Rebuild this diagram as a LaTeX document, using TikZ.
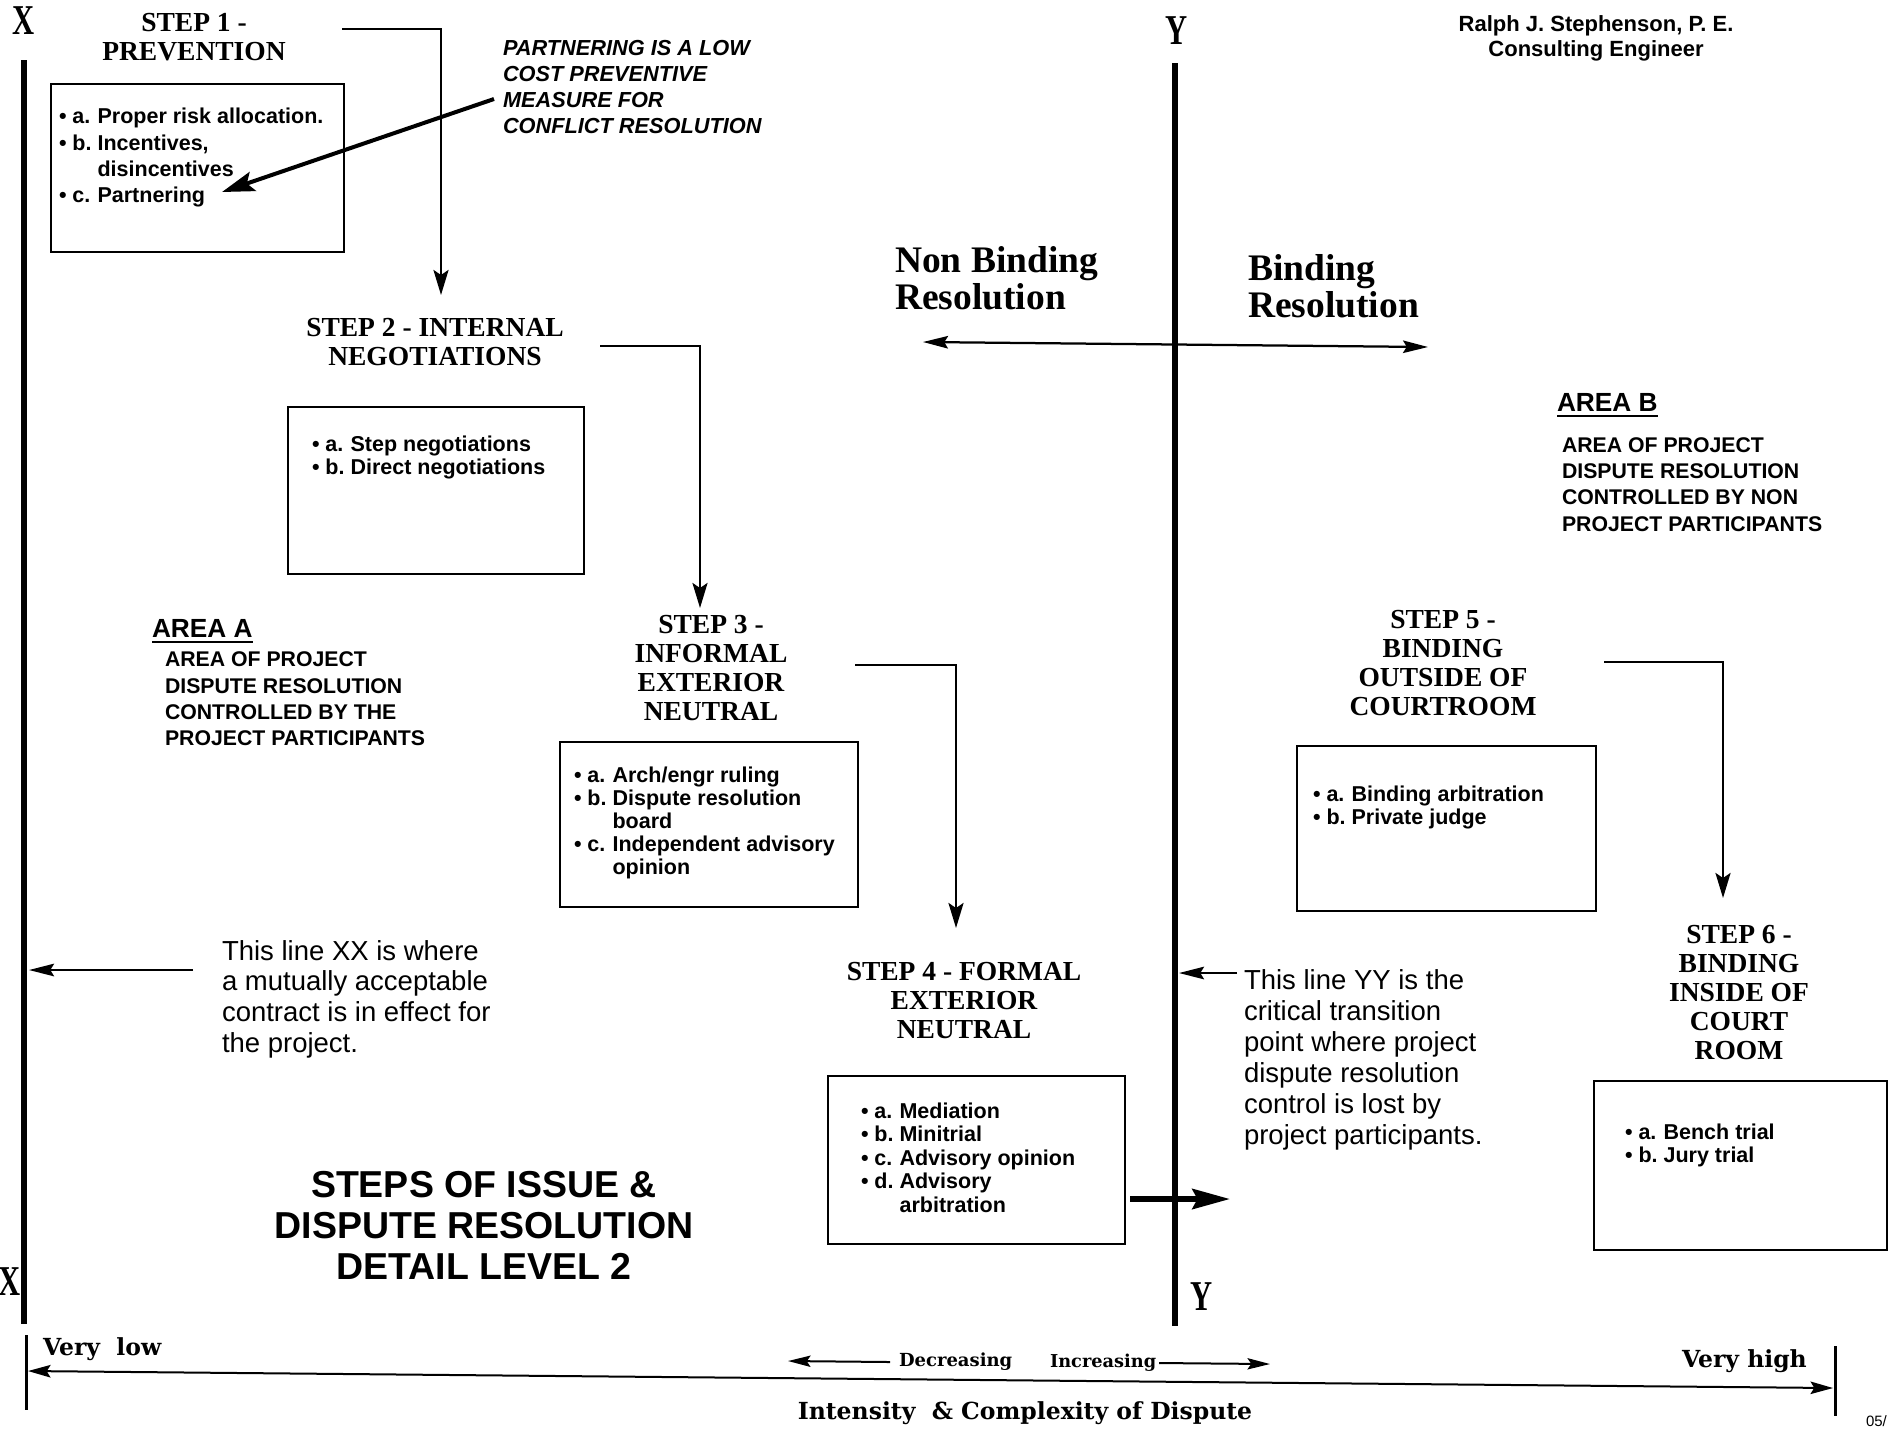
\documentclass[tikz,border=0pt]{standalone}
\usepackage{fontspec}
\setmainfont{Liberation Serif}
\setsansfont{Liberation Sans}
\newfontfamily\dvserif{DejaVu Serif}
\usetikzlibrary{arrows.meta}
\begin{document}
\begin{tikzpicture}[x=0.4pt,y=-0.4pt,
  every node/.style={inner sep=0pt, outer sep=0pt},
  steptitle/.style={font=\fontsize{11}{11.6}\selectfont\rmfamily\bfseries, align=center},
  stepbox/.style={draw, line width=0.75pt, anchor=north west},
  items/.style={font=\fontsize{8.6}{9.2}\selectfont\sffamily\bfseries, anchor=north west},
  areahead/.style={font=\fontsize{10.5}{12}\selectfont\sffamily\bfseries, anchor=base west},
  areatext/.style={font=\fontsize{8.5}{10.5}\selectfont\sffamily\bfseries, align=left, anchor=west},
  note/.style={font=\fontsize{11}{12.3}\selectfont\sffamily, align=left, anchor=west},
  bigletter/.style={font=\fontsize{17}{17}\selectfont\rmfamily\bfseries},
  bottomlabel/.style={font=\fontsize{9.4}{10}\selectfont\dvserif\bfseries, anchor=base west},
  axisline/.style={line width=2.3pt},
  conn/.style={line width=1.1pt, -{Stealth[length=10pt,width=6pt,inset=2pt]}},
  thinarrow/.style={line width=1pt, -{Stealth[length=10pt,width=5pt,inset=1.5pt]}},
  bigarrow/.style={line width=1.6pt, -{Stealth[length=13pt,width=8pt,inset=2.5pt]}},
  thickarrow/.style={line width=2.4pt, -{Stealth[length=15pt,width=8pt,inset=2pt]}},
  scaletip/.style={line width=0.8pt}
]
\useasboundingbox (0,0) rectangle (1890,1428);

% ---------- main vertical lines XX and YY ----------
\node[bigletter] (xtop) at (24,21) {\scalebox{0.72}[1]{X}};
\node[bigletter] (xbot) at (10,1282) {\scalebox{0.72}[1]{X}};
\coordinate (xl1) at (24,60);
\coordinate (xl2) at (24,1324);
\draw[axisline] (xl1) -- (xl2);

\node[bigletter] (ytop) at (1177,31) {\scalebox{0.72}[1]{Y}};
\node[bigletter] (ybot) at (1202,1297) {\scalebox{0.72}[1]{Y}};
\coordinate (yl1) at (1175,63);
\coordinate (yl2) at (1175,1326);
\draw[line width=2.5pt] (yl1) -- (yl2);

% ---------- header ----------
\node[font=\fontsize{8.8}{10}\selectfont\sffamily\bfseries, align=center] (author) at (1596,38)
  {Ralph J. Stephenson, P. E.\\Consulting Engineer};

% ---------- STEP 1 ----------
\node[steptitle] (s1) at (194,37) {STEP 1 -\\PREVENTION};
\node[stepbox, minimum width=117.2pt, minimum height=67.2pt] (b1) at (51,84) {};
\node[items, font=\fontsize{8.6}{10.5}\selectfont\sffamily\bfseries] (t1) at (59,105.4)
  {\begin{tabular}{@{}l@{\ }l@{\ }l@{}}
   \textbullet & a. & Proper risk allocation.\\
   \textbullet & b. & Incentives,\\
               &    & disincentives\\
   \textbullet & c. & Partnering
   \end{tabular}};
\coordinate (c1s) at (342,29);
\coordinate (c1e) at (441,295);
\draw[conn] (c1s) -| (c1e);

% partnering note
\node[font=\fontsize{8.7}{10.5}\selectfont\sffamily\bfseries\itshape, align=left, anchor=west] (pnote) at (503,87)
  {PARTNERING IS A LOW\\COST PREVENTIVE\\MEASURE FOR\\CONFLICT RESOLUTION};
\coordinate (pa1) at (494,99);
\coordinate (pa2) at (222,192);
\draw[bigarrow] (pa1) -- (pa2);

% ---------- STEP 2 ----------
\node[steptitle] (s2) at (435,342.5) {STEP 2 - INTERNAL\\NEGOTIATIONS};
\node[stepbox, minimum width=118.4pt, minimum height=66.8pt] (b2) at (288,407) {};
\node[items] (t2) at (312,435.6)
  {\begin{tabular}{@{}l@{\ }l@{\ }l@{}}
   \textbullet & a. & Step negotiations\\
   \textbullet & b. & Direct negotiations
   \end{tabular}};
\coordinate (c2s) at (600,346);
\coordinate (c2e) at (700,608);
\draw[conn] (c2s) -| (c2e);

% ---------- Non binding / binding ----------
\node[font=\fontsize{15}{14.8}\selectfont\rmfamily\bfseries, align=left, anchor=west] (nb) at (895,278)
  {Non Binding\\Resolution};
\node[font=\fontsize{15}{14.8}\selectfont\rmfamily\bfseries, align=left, anchor=west] (bi) at (1248,286)
  {Binding\\Resolution};
\coordinate (da1) at (923,342);
\coordinate (da2) at (1428,347);
\draw[line width=0.9pt, {Stealth[length=10pt,width=5pt,inset=1.5pt]}-{Stealth[length=10pt,width=5pt,inset=1.5pt]}] (da1) -- (da2);

% ---------- AREA A ----------
\node[areahead] (aa) at (152,637) {AREA A};
\draw[line width=0.9pt] ([yshift=-2pt]aa.base west) -- ([yshift=-2pt]aa.base east);
\node[areatext] (aat) at (165,699)
  {AREA OF PROJECT\\DISPUTE RESOLUTION\\CONTROLLED BY THE\\PROJECT PARTICIPANTS};

% ---------- AREA B ----------
\node[areahead] (ab) at (1557,411) {AREA B};
\draw[line width=0.9pt] ([yshift=-2pt]ab.base west) -- ([yshift=-2pt]ab.base east);
\node[areatext] (abt) at (1562,484.5)
  {AREA OF PROJECT\\DISPUTE RESOLUTION\\CONTROLLED BY NON\\PROJECT PARTICIPANTS};

% ---------- STEP 3 ----------
\node[steptitle] (s3) at (711,668.5) {STEP 3 -\\INFORMAL\\EXTERIOR\\NEUTRAL};
\node[stepbox, minimum width=119.2pt, minimum height=66pt] (b3) at (560,742) {};
\node[items] (t3) at (574,766.6)
  {\begin{tabular}{@{}l@{\ }l@{\ }l@{}}
   \textbullet & a. & Arch/engr ruling\\
   \textbullet & b. & Dispute resolution\\
               &    & board\\
   \textbullet & c. & Independent advisory\\
               &    & opinion
   \end{tabular}};
\coordinate (c3s) at (855,665);
\coordinate (c3e) at (956,928);
\draw[conn] (c3s) -| (c3e);

% ---------- STEP 4 ----------
\node[steptitle] (s4) at (964,1000) {STEP 4 - FORMAL\\EXTERIOR\\NEUTRAL};
\node[stepbox, minimum width=118.8pt, minimum height=67.2pt] (b4) at (828,1076) {};
\node[items, font=\fontsize{8.6}{9.4}\selectfont\sffamily\bfseries] (t4) at (861,1102)
  {\begin{tabular}{@{}l@{\ }l@{\ }l@{}}
   \textbullet & a. & Mediation\\
   \textbullet & b. & Minitrial\\
   \textbullet & c. & Advisory opinion\\
   \textbullet & d. & Advisory\\
               &    & arbitration
   \end{tabular}};
\coordinate (a4s) at (1130,1199);
\coordinate (a4e) at (1230,1199);
\draw[thickarrow] (a4s) -- (a4e);

% ---------- STEP 5 ----------
\node[steptitle] (s5) at (1443,663.5) {STEP 5 -\\BINDING\\OUTSIDE OF\\COURTROOM};
\node[stepbox, minimum width=119.6pt, minimum height=66pt] (b5) at (1297,746) {};
\node[items] (t5) at (1313,785)
  {\begin{tabular}{@{}l@{\ }l@{\ }l@{}}
   \textbullet & a. & Binding arbitration\\
   \textbullet & b. & Private judge
   \end{tabular}};
\coordinate (c5s) at (1604,662);
\coordinate (c5e) at (1723,898);
\draw[conn] (c5s) -| (c5e);

% ---------- STEP 6 ----------
\node[steptitle] (s6) at (1739,993) {STEP 6 -\\BINDING\\INSIDE OF\\COURT\\ROOM};
\node[stepbox, minimum width=117.2pt, minimum height=67.6pt] (b6) at (1594,1081) {};
\node[items] (t6) at (1625,1123.6)
  {\begin{tabular}{@{}l@{\ }l@{\ }l@{}}
   \textbullet & a. & Bench trial\\
   \textbullet & b. & Jury trial
   \end{tabular}};

% ---------- line notes ----------
\node[note] (xxnote) at (222,999)
  {This line XX is where\\a mutually acceptable\\contract is in effect for\\the project.};
\coordinate (xxs) at (193,970);
\coordinate (xxe) at (29,970);
\draw[thinarrow] (xxs) -- (xxe);

\node[note, font=\fontsize{11}{12.4}\selectfont\sffamily] (yynote) at (1244,1059.5)
  {This line YY is the\\critical transition\\point where project\\dispute resolution\\control is lost by\\project participants.};
\coordinate (yys) at (1237,973);
\coordinate (yye) at (1179,973);
\draw[thinarrow] (yys) -- (yye);

% ---------- title ----------
\node[font=\fontsize{15}{16.4}\selectfont\sffamily\bfseries, align=center] (title) at (484,1225)
  {STEPS OF ISSUE \&\\DISPUTE RESOLUTION\\DETAIL LEVEL 2};

% ---------- bottom scale ----------
\coordinate (lt1) at (26,1335);
\coordinate (lt2) at (26,1410);
\draw[line width=1.2pt] (lt1) -- (lt2);
\coordinate (rt1) at (1835,1346);
\coordinate (rt2) at (1835,1416);
\draw[line width=1.2pt] (rt1) -- (rt2);
\coordinate (ax1) at (28,1371);
\coordinate (ax2) at (1833,1388);
\draw[scaletip, {Stealth[length=9pt,width=5pt,inset=1.5pt]}-{Stealth[length=9pt,width=5pt,inset=1.5pt]}] (ax1) -- (ax2);

\node[bottomlabel] (vlow) at (43,1355) {Very\ \ low};
\node[bottomlabel] (vhigh) at (1682,1367) {Very high};
\node[bottomlabel, font=\fontsize{7.2}{8}\selectfont\dvserif\bfseries] (decr) at (899,1366) {Decreasing};
\node[bottomlabel, font=\fontsize{7.1}{8}\selectfont\dvserif\bfseries] (incr) at (1050,1367) {Increasing};
\coordinate (de1) at (890,1362);
\coordinate (de2) at (788,1361);
\draw[scaletip, -{Stealth[length=9pt,width=4.5pt,inset=1.5pt]}] (de1) -- (de2);
\coordinate (in1) at (1159,1363);
\coordinate (in2) at (1270,1364);
\draw[scaletip, -{Stealth[length=9pt,width=4.5pt,inset=1.5pt]}] (in1) -- (in2);
\node[font=\fontsize{9.4}{10}\selectfont\dvserif\bfseries, anchor=base] (intens) at (1025,1419)
  {Intensity\ \ \& Complexity of Dispute};

\node[font=\fontsize{6}{7}\selectfont\sffamily, anchor=base west] (date) at (1866,1426) {05/};
\end{tikzpicture}
\end{document}
